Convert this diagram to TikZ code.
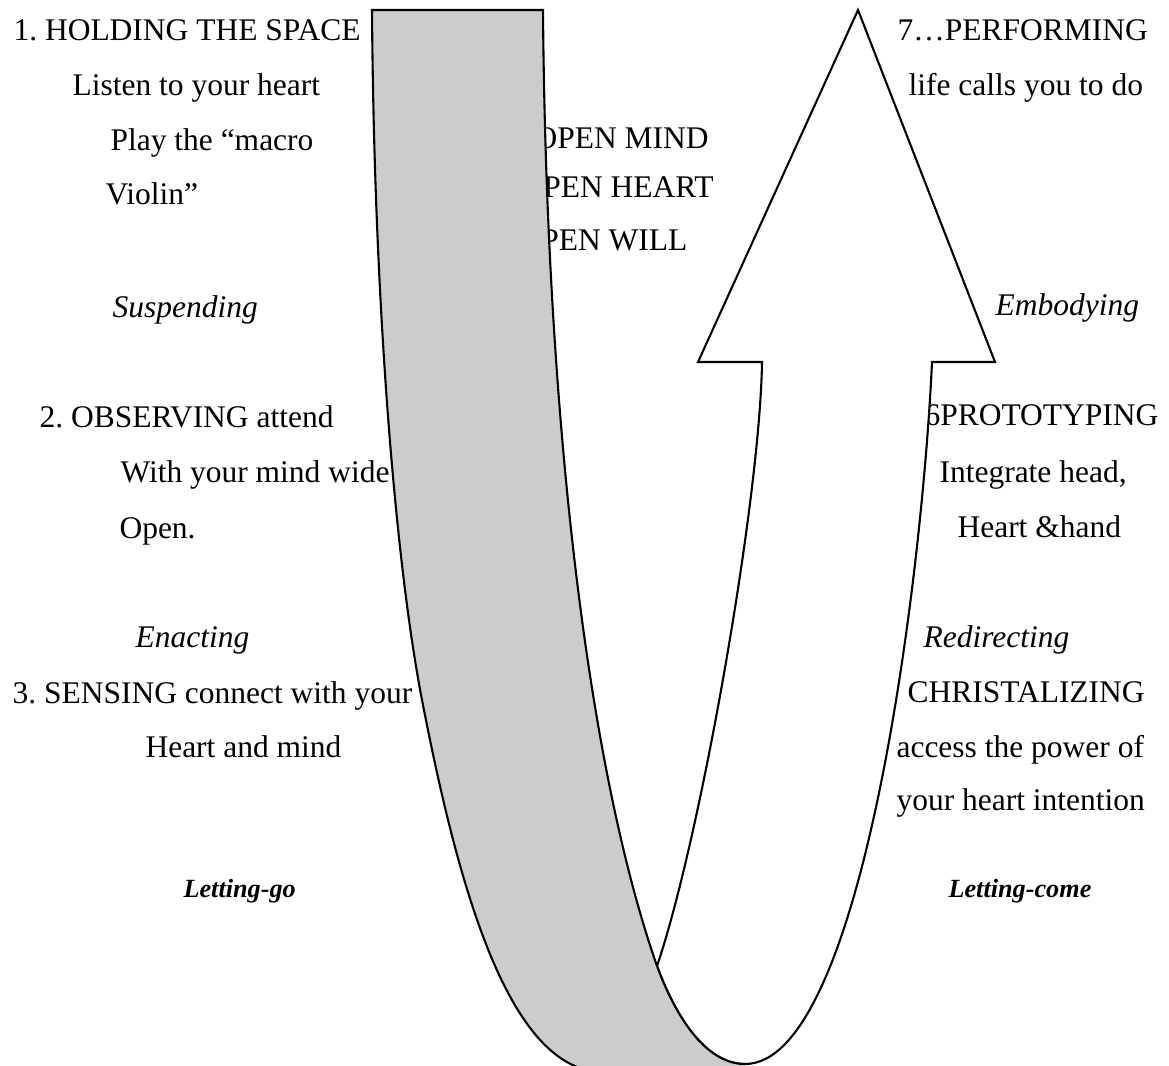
\documentclass[tikz,border=0pt]{standalone}
\usepackage{fontspec}
\setmainfont{Liberation Serif}
\definecolor{backgrey}{HTML}{CCCCCC}
\tikzset{
  lbl/.style={anchor=base west,inner sep=0pt,font=\frenchspacing\fontsize{12pt}{14pt}\selectfont},
  stage/.style={lbl,font=\frenchspacing\fontsize{12pt}{14pt}\selectfont\itshape},
  pole/.style={lbl,font=\frenchspacing\fontsize{10pt}{12pt}\selectfont\bfseries\itshape},
  edge/.style={line width=0.8pt,line join=miter},
}
\begin{document}
\begin{tikzpicture}[x=0.381pt,y=-0.381pt]
    \useasboundingbox (0,0) rectangle (1169,1065);
    \clip (0,0) rectangle (1169,1065);
    % left column
    \node[lbl] (hold) at (13,40) {1. HOLDING THE SPACE};
    \node[lbl] (listen) at (72,95) {Listen to your heart};
    \node[lbl] (play) at (110,150) {Play the “macro};
    \node[lbl] (violin) at (105,204) {Violin”};
    \node[stage] (susp) at (112,317) {Suspending};
    \node[lbl] (observe) at (39,427) {2. OBSERVING attend};
    \node[lbl] (wide) at (120,482) {With your mind wide};
    \node[lbl] (open) at (119,538) {Open.};
    \node[stage] (enact) at (135,647) {Enacting};
    \node[lbl] (sense) at (12,703) {3. SENSING connect with your};
    \node[lbl] (hmind) at (145,757) {Heart and mind};
    \node[pole] (letgo) at (183,897) {Letting-go};
    % middle
    \node[lbl] (omind) at (534,148) {OPEN MIND};
    \node[lbl] (oheart) at (520,197) {OPEN HEART};
    \node[lbl] (owill) at (518,250) {OPEN WILL};
    % right column
    \node[lbl] (perform) at (897,40) {7…PERFORMING};
    \node[lbl] (life) at (908,95) {life calls you to do};
    \node[stage] (embody) at (995,315) {Embodying};
    \node[lbl] (proto) at (924,425) {6PROTOTYPING};
    \node[lbl] (integ) at (939,482) {Integrate head,};
    \node[lbl] (hhand) at (957,537) {Heart \&hand};
    \node[stage] (redir) at (923,647) {Redirecting};
    \node[lbl] (crist) at (907,702) {CHRISTALIZING};
    \node[lbl] (access) at (896,757) {access the power of};
    \node[lbl] (intent) at (896,810) {your heart intention};
    \node[pole] (letcome) at (948,897) {Letting-come};
    % front side: rising arrow
    \filldraw[edge,fill=white] (762,362) .. controls (760,500) and (700,840) .. (657,966)
      .. controls (675,1015) and (705,1064) .. (745,1064)
      .. controls (862,1064) and (922,580) .. (932,362)
      -- (995,362) -- (858,10) -- (698,362) -- cycle;
    % back side: falling band
    \fill[backgrey] (372,10) -- (543,10) .. controls (546,400) and (585,760) .. (657,966)
      .. controls (675,1015) and (705,1064) .. (745,1064) -- (745,1100) -- (580,1100) -- (580,1068)
      .. controls (500,1040) and (455,870) .. (422,700)
      .. controls (395,560) and (374,300) .. (372,10) -- cycle;
    \draw[edge] (580,1068) .. controls (500,1040) and (455,870) .. (422,700)
      .. controls (395,560) and (374,300) .. (372,10) -- (543,10)
      .. controls (546,400) and (585,760) .. (657,966)
      .. controls (675,1015) and (705,1064) .. (745,1064);
\end{tikzpicture}
\end{document}
